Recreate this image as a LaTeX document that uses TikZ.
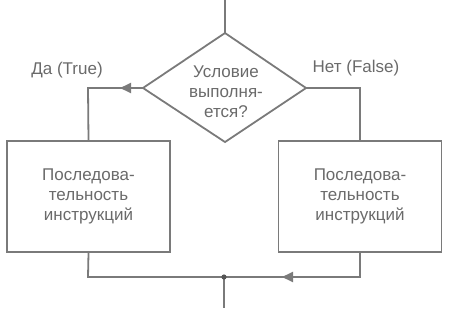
\documentclass[tikz,border=0pt]{standalone}
\usepackage{fontspec}
\setmainfont{Liberation Sans}
\usetikzlibrary{shapes.geometric,arrows.meta}
\definecolor{ln}{HTML}{7A7A7A}
\definecolor{tx}{HTML}{6A6A6A}
\tikzset{
  lbl/.style={text=tx,font=\fontsize{17}{20}\selectfont,align=center,inner sep=0pt},
  flow/.style={draw=ln,line width=1.8pt},
  blk/.style={draw=ln,line width=1.8pt,minimum width=163pt,minimum height=111pt,inner sep=0pt,text=tx,font=\fontsize{17}{20}\selectfont,align=center},
  arr/.style={-{Triangle[length=11pt,width=10pt]}},
}
\begin{document}
\begin{tikzpicture}[x=1pt,y=-1pt]
\useasboundingbox (0,0) rectangle (452,308);
\coordinate (top) at (225,0);
\coordinate (dt) at (225,33);
\coordinate (dl) at (143,88);
\coordinate (dr) at (306,88);
\coordinate (db) at (225,142);
\draw[flow,line join=miter] (dt) -- (dr) -- (db) -- (dl) -- cycle;
\node[lbl] (cond) at (226,92) {Условие\\выполня-\\ется?};
\draw[flow] (top) -- (dt);
\node[blk] (L) at (88.5,196.5) {Последова-\\тельность\\инструкций};
\node[blk] (R) at (360,196.5) {Последова-\\тельность\\инструкций};
\node[lbl] (yes) at (67,70) {Да (True)};
\node[lbl] (no) at (356,68) {Нет (False)};
\coordinate (lc) at (88,88);
\coordinate (rc) at (360,88);
\coordinate (al) at (120,88);
\draw[flow] (dl) -- (lc) -- (L.north);
\draw[flow,arr] (dl) -- (al);
\draw[flow] (dr) -- (rc) -- (R.north);
\coordinate (j) at (224,277);
\coordinate (lb) at (88,277);
\coordinate (rb) at (360,277);
\coordinate (ar) at (282,277);
\coordinate (bot) at (224,308);
\draw[flow] (L.south) -- (lb) -- (j);
\draw[flow] (R.south) -- (rb) -- (j);
\draw[flow,arr] (rb) -- (ar);
\draw[flow] (j) -- (bot);
\fill[ln!70!black] (j) circle (2.6pt);
\end{tikzpicture}
\end{document}
